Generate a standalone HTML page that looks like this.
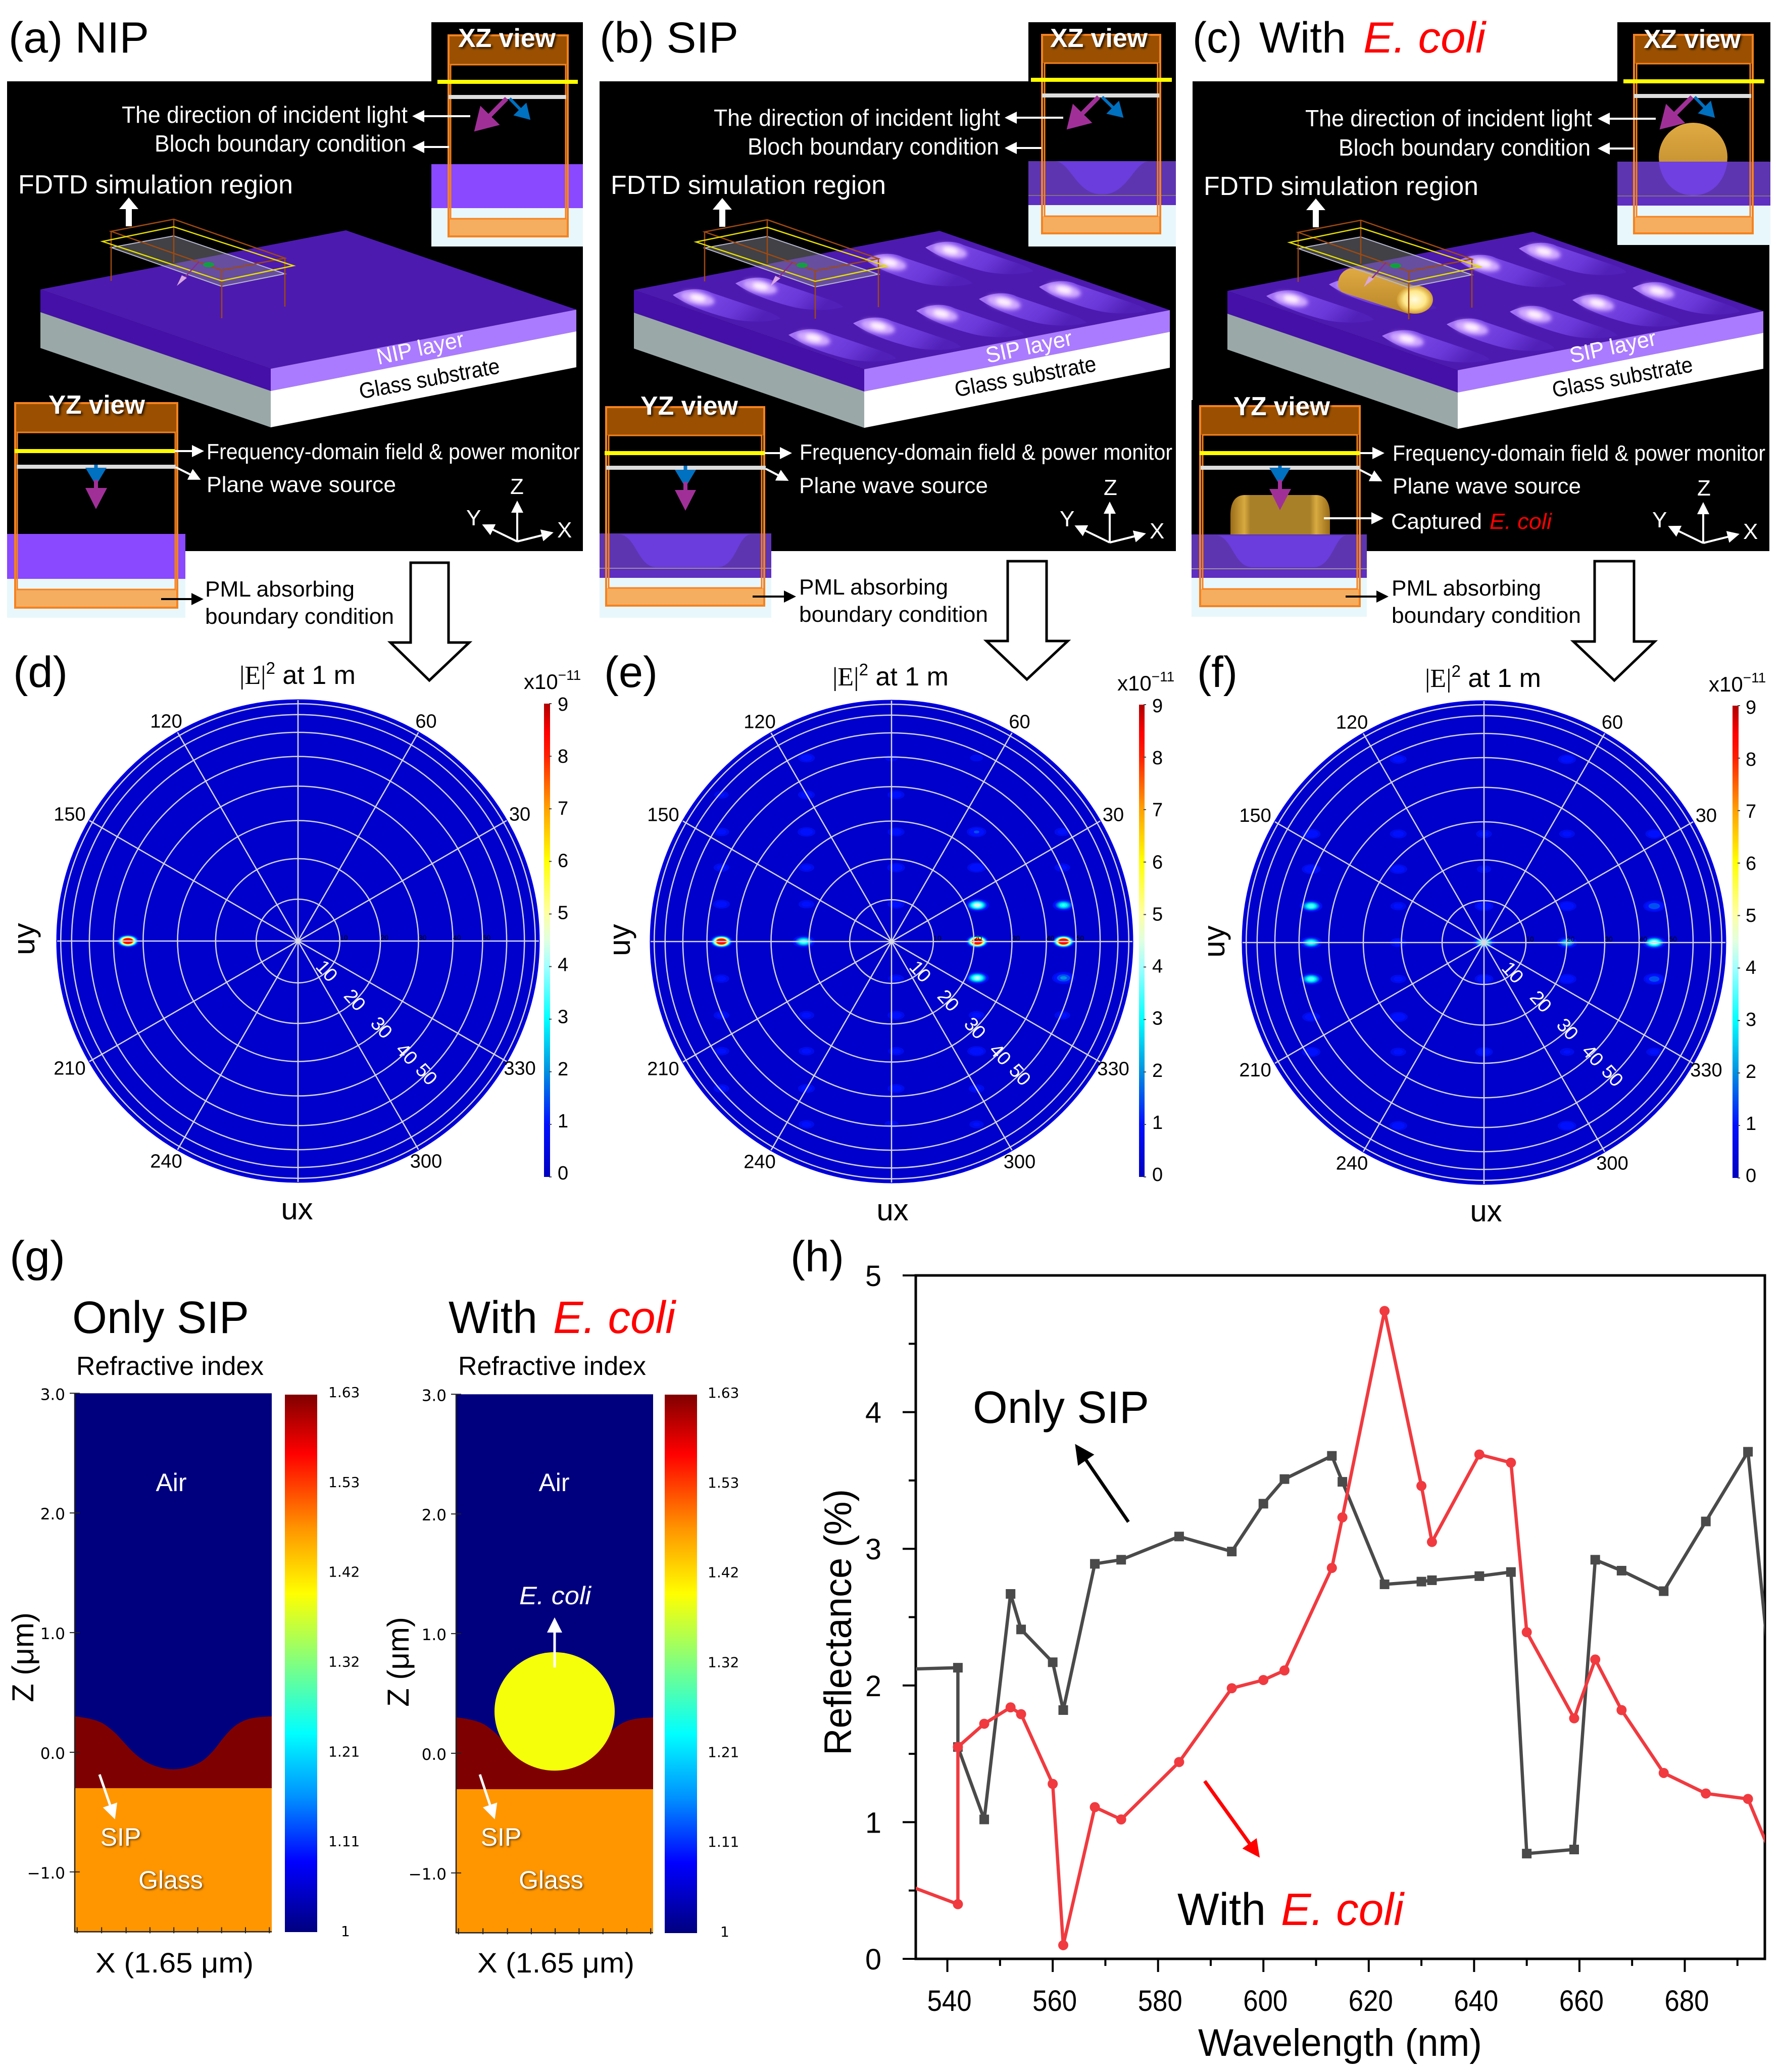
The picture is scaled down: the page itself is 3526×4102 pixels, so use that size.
<!DOCTYPE html>
<html lang="en">
<head>
<meta charset="utf-8">
<title>NIP / SIP simulation figure</title>
<style>
html,body{margin:0;padding:0;background:#fff}
svg{display:block;font-family:"Liberation Sans",sans-serif}
.w{fill:#fff}
.k{fill:#000}
.r{fill:#f00;font-style:italic}
.shadow{filter:drop-shadow(3px 3px 2px rgba(0,0,0,.75))}
.lbl{font-size:46px}
.mon{font-size:44px}
.ttl{font-size:86px}
.ax{font-size:44px;fill:#fff}
.view{font-size:52px;font-weight:bold;fill:#fff}
.head{font-size:52px}
.bar-unit{font-size:42px}
.uv{font-size:60px}
.glow{filter:drop-shadow(2px 2px 2px rgba(0,0,0,.6))}
</style>
</head>
<body>
<svg id="figure" xmlns="http://www.w3.org/2000/svg" width="3526" height="4102" viewBox="0 0 3526 4102">
<defs>
  <marker id="ah-w" markerWidth="6" markerHeight="6" refX="5" refY="3" orient="auto"><path d="M0,0L6,3L0,6z" fill="#fff"/></marker>
  <marker id="ah-k" markerWidth="6" markerHeight="6" refX="5" refY="3" orient="auto"><path d="M0,0L6,3L0,6z" fill="#000"/></marker>
  <marker id="ah-r" markerWidth="5" markerHeight="5" refX="4" refY="2.5" orient="auto"><path d="M0,0L5,2.5L0,5z" fill="#f00"/></marker>
  <marker id="ah-m" markerWidth="5" markerHeight="6" refX="4" refY="3" orient="auto"><path d="M0,0L5,3L0,6z" fill="#a03098"/></marker>
  <marker id="ah-b" markerWidth="5" markerHeight="6" refX="4" refY="3" orient="auto"><path d="M0,0L5,3L0,6z" fill="#0070c0"/></marker>
  <linearGradient id="heatGrad" x1="0" y1="0" x2="0" y2="1">
    <stop offset="0" stop-color="#b00000"/><stop offset=".06" stop-color="#ff0000"/><stop offset=".11" stop-color="#ff2000"/>
    <stop offset=".22" stop-color="#ffa000"/><stop offset=".33" stop-color="#ffff00"/><stop offset=".44" stop-color="#ffffa0"/>
    <stop offset=".5" stop-color="#e0ffe0"/><stop offset=".556" stop-color="#a0ffff"/><stop offset=".667" stop-color="#00ffff"/>
    <stop offset=".778" stop-color="#0090e0"/><stop offset=".889" stop-color="#0010ff"/><stop offset="1" stop-color="#0000c0"/>
  </linearGradient>
  <linearGradient id="jetGrad" x1="0" y1="0" x2="0" y2="1">
    <stop offset="0" stop-color="#800000"/><stop offset=".11" stop-color="#ff0000"/><stop offset=".25" stop-color="#ff9600"/>
    <stop offset=".37" stop-color="#ffff00"/><stop offset=".5" stop-color="#80ff80"/><stop offset=".63" stop-color="#00ffff"/>
    <stop offset=".75" stop-color="#0090ff"/><stop offset=".87" stop-color="#0000ff"/><stop offset="1" stop-color="#00007f"/>
  </linearGradient>
  <linearGradient id="dimpleGrad" x1="0" y1="0" x2="1" y2=".3">
    <stop offset="0" stop-color="#b080f8"/><stop offset=".3" stop-color="#7c48e8"/><stop offset=".7" stop-color="#6a38d8"/><stop offset="1" stop-color="#5020b8"/>
  </linearGradient>
  <linearGradient id="goldGrad" x1="0" y1="0" x2="0" y2="1">
    <stop offset="0" stop-color="#e0aa42"/><stop offset="1" stop-color="#b8862a"/>
  </linearGradient>
  <linearGradient id="goldH" x1="0" y1="0" x2="1" y2="0">
    <stop offset="0" stop-color="#9a6c18"/><stop offset=".14" stop-color="#d8aa40"/><stop offset=".2" stop-color="#a88028"/><stop offset=".8" stop-color="#a88028"/><stop offset=".86" stop-color="#d8aa40"/><stop offset="1" stop-color="#9a6c18"/>
  </linearGradient>
  <radialGradient id="capGrad"><stop offset="0" stop-color="#fffbe0"/><stop offset=".6" stop-color="#ffe88a"/><stop offset="1" stop-color="#d09a30"/></radialGradient>
  <filter id="soft" x="-60%" y="-60%" width="220%" height="220%"><feGaussianBlur stdDeviation="4"/></filter>
  <g id="slab">
    <polygon points="80,573 685,456 1141,613 536,730" fill="#4d1ab0"/>
    <polygon points="80,573 536,730 536,774 80,618" fill="#4510a8"/>
    <polygon points="536,730 1141,613 1141,656 536,774" fill="#ab7bff"/>
    <polygon points="80,618 536,774 536,846 80,689" fill="#9aa8a8"/>
    <polygon points="536,774 1141,656 1141,727 536,846" fill="#fff"/>
  </g>
  <g id="dimple">
    <path d="M-45,-7C-20,-20 10,-22 30,-12L140,25C155,30 165,36 168,40C140,48 100,47 70,40C30,30 -15,15 -45,-7Z" fill="url(#dimpleGrad)"/>
    <ellipse cx="4" cy="-1" rx="34" ry="13" transform="rotate(12)" fill="#d0a8ff" filter="url(#soft)"/>
    <ellipse cx="4" cy="-2" rx="16" ry="7" transform="rotate(12)" fill="#fff0ff" filter="url(#soft)"/>
  </g>
  <g id="sip-surface">
    <use href="#dimple" x="202" y="590"/><use href="#dimple" x="326" y="567"/><use href="#dimple" x="431" y="669"/>
    <use href="#dimple" x="559" y="646"/><use href="#dimple" x="684" y="621"/><use href="#dimple" x="808" y="598"/>
    <use href="#dimple" x="927" y="574"/><use href="#dimple" x="582" y="520"/><use href="#dimple" x="702" y="496"/>
  </g>
  <g id="wire">
    <polygon points="220,490 344,467 564,542 439,567" fill="rgba(130,130,140,.5)" stroke="#b8b8d0" stroke-width="2"/>
    <polygon points="220,458 344,434 564,511 439,535" fill="none" stroke="#a04a10" stroke-width="2.5"/>
    <path d="M220,458V556M439,535V630M564,511V607M344,434V520" fill="none" stroke="#a04a10" stroke-width="2.5"/>
    <polygon points="203,478 344,449 581,526 439,556" fill="none" stroke="#e6e000" stroke-width="2.5"/>
    <line x1="394" y1="518" x2="356" y2="560" stroke="#8a2c90" stroke-width="2.5"/>
    <polygon points="350,566 370,550 360,545" fill="#d8a8e0"/>
    <ellipse cx="413" cy="524" rx="11" ry="5" fill="#10a040"/>
    <line x1="255" y1="448" x2="255" y2="400" stroke="#fff" stroke-width="12"/>
    <polygon points="236,414 274,414 255,391" fill="#fff"/>
  </g>
</defs>

<!-- Panel a -->
<g>
  <rect x="14" y="161" width="1140" height="930" fill="#000"/>
  <use href="#slab"/>
  <use href="#wire"/>
  <text class="ttl" x="17" y="104" textLength="278">(a) NIP</text>
  <text class="w" font-size="44" transform="translate(749,722) rotate(-12)" textLength="176">NIP layer</text>
  <text class="k" font-size="44" transform="translate(714,790) rotate(-10.5)" textLength="282">Glass substrate</text>
  <g>
    <rect x="854" y="44" width="300" height="281" fill="#000"/>
    <rect x="854" y="325" width="300" height="87" fill="#8a48ff"/>
    <rect x="854" y="412" width="300" height="76" fill="#e8f7fb"/>
    <rect x="888" y="70" width="236" height="58" fill="#9a5000"/>
    <rect x="888" y="433" width="236" height="35" fill="#f5ae60"/>
    <rect x="888" y="70" width="236" height="398" fill="none" stroke="#f58220" stroke-width="4"/>
    <rect x="892" y="128" width="228" height="305" fill="none" stroke="#f58220" stroke-width="3"/>
    <rect x="866" y="158" width="278" height="8" fill="#ff0"/>
    <rect x="888" y="188" width="233" height="8" fill="#ddd"/>
    <line x1="1003" y1="195" x2="945" y2="254" stroke="#a03098" stroke-width="9" marker-end="url(#ah-m)"/>
    <line x1="1009" y1="195" x2="1046" y2="233" stroke="#0070c0" stroke-width="6" marker-end="url(#ah-b)"/>
    <text class="view shadow" x="907" y="93" textLength="193">XZ view</text>
  </g>
  <g>
    <rect x="14" y="1057" width="353" height="89" fill="#8a48ff"/>
    <rect x="14" y="1146" width="353" height="77" fill="#e8f7fb"/>
    <rect x="30" y="798" width="321" height="58" fill="#9a5000"/>
    <rect x="30" y="1167" width="321" height="36" fill="#f5ae60"/>
    <rect x="30" y="798" width="321" height="405" fill="none" stroke="#f58220" stroke-width="4"/>
    <rect x="34" y="856" width="313" height="311" fill="none" stroke="#f58220" stroke-width="3"/>
    <rect x="29" y="889" width="317" height="8" fill="#ff0"/>
    <rect x="33" y="920" width="315" height="8" fill="#ddd"/>
    <line x1="190" y1="920" x2="190" y2="954" stroke="#0070c0" stroke-width="7" marker-end="url(#ah-b)"/>
    <polygon points="169,966 212,966 190,1008" fill="#a03098"/>
    <rect x="186" y="950" width="8" height="18" fill="#a03098"/>
    <text class="view shadow" x="96" y="819" textLength="191">YZ view</text>
  </g>
  <text class="lbl w" x="241" y="243" textLength="566">The direction of incident light</text>
  <text class="lbl w" x="306" y="300" textLength="498">Bloch boundary condition</text>
  <text class="w" font-size="52" x="36" y="383" textLength="544">FDTD simulation region</text>
  <text class="mon w" x="409" y="909" textLength="739">Frequency-domain field &amp; power monitor</text>
  <text class="mon w" x="409" y="974" textLength="375">Plane wave source</text>
  <text class="mon k" x="406" y="1181" textLength="296">PML absorbing</text>
  <text class="mon k" x="406" y="1235" textLength="374">boundary condition</text>
  <line x1="931" y1="230" x2="820" y2="230" stroke="#fff" stroke-width="4" marker-end="url(#ah-w)"/>
  <line x1="889" y1="291" x2="820" y2="291" stroke="#fff" stroke-width="4" marker-end="url(#ah-w)"/>
  <line x1="346" y1="893" x2="400" y2="893" stroke="#fff" stroke-width="4" marker-end="url(#ah-w)"/>
  <line x1="348" y1="925" x2="394" y2="948" stroke="#fff" stroke-width="4" marker-end="url(#ah-w)"/>
  <line x1="319" y1="1186" x2="399" y2="1186" stroke="#000" stroke-width="4" marker-end="url(#ah-k)"/>
  <g stroke="#fff" stroke-width="4" fill="none">
    <path d="M1024,1072V995" marker-end="url(#ah-w)"/><path d="M1024,1072L958,1040" marker-end="url(#ah-w)"/><path d="M1024,1072L1092,1055" marker-end="url(#ah-w)"/>
  </g>
  <text class="ax" x="1010" y="978">Z</text><text class="ax" x="923" y="1040">Y</text><text class="ax" x="1103" y="1064">X</text>
  <polygon points="813,1114 888,1114 888,1272 929,1272 850,1347 773,1272 813,1272" fill="#fff" stroke="#000" stroke-width="5"/>
</g>

<!-- Panel b -->
<g>
  <rect x="1187" y="161" width="1141" height="930" fill="#000"/>
  <g transform="translate(1175,1)">
    <use href="#slab"/>
    <use href="#sip-surface"/>
    <use href="#wire"/>
  </g>
  <text class="ttl" x="1187" y="104" textLength="275">(b) SIP</text>
  <text class="w" font-size="44" transform="translate(1955,719) rotate(-12)" textLength="174">SIP layer</text>
  <text class="k" font-size="44" transform="translate(1893,786) rotate(-10.5)" textLength="284">Glass substrate</text>
  <g>
    <rect x="2036" y="44" width="292" height="275" fill="#000"/>
    <rect x="2036" y="319" width="292" height="87" fill="#5e35b0"/>
    <rect x="2036" y="406" width="292" height="82" fill="#e8f7fb"/>
    <path d="M2088,319C2120,320 2130,385 2182,385C2234,385 2244,320 2276,319Z" fill="#6a3ddc"/>
    <rect x="2036" y="386" width="292" height="2" fill="#807080"/>
    <rect x="2036" y="388" width="292" height="18" fill="#5e2fc0"/>
    <rect x="2063" y="69" width="234" height="56" fill="#9a5000"/>
    <rect x="2063" y="428" width="234" height="34" fill="#f5ae60"/>
    <rect x="2063" y="69" width="234" height="393" fill="none" stroke="#f58220" stroke-width="4"/>
    <rect x="2068" y="125" width="224" height="303" fill="none" stroke="#f58220" stroke-width="3"/>
    <rect x="2041" y="154" width="279" height="8" fill="#ff0"/>
    <rect x="2063" y="185" width="232" height="8" fill="#ddd"/>
    <line x1="2175" y1="192" x2="2118" y2="250" stroke="#a03098" stroke-width="9" marker-end="url(#ah-m)"/>
    <line x1="2182" y1="192" x2="2220" y2="229" stroke="#0070c0" stroke-width="6" marker-end="url(#ah-b)"/>
    <text class="view shadow" x="2079" y="93" textLength="193">XZ view</text>
  </g>
  <g>
    <rect x="1187" y="1056" width="340" height="88" fill="#5e35b0"/>
    <rect x="1187" y="1144" width="340" height="79" fill="#e8f7fb"/>
    <path d="M1226,1058C1260,1060 1262,1123 1300,1123H1420C1458,1123 1460,1060 1486,1058Z" fill="#6a3ddc"/>
    <rect x="1187" y="1124" width="340" height="2" fill="#9a90a0"/>
    <rect x="1187" y="1126" width="340" height="18" fill="#5e2fc0"/>
    <rect x="1200" y="806" width="313" height="56" fill="#9a5000"/>
    <rect x="1200" y="1164" width="313" height="35" fill="#f5ae60"/>
    <rect x="1200" y="806" width="313" height="393" fill="none" stroke="#f58220" stroke-width="4"/>
    <rect x="1205" y="862" width="303" height="302" fill="none" stroke="#f58220" stroke-width="3"/>
    <rect x="1197" y="893" width="317" height="8" fill="#ff0"/>
    <rect x="1200" y="922" width="316" height="8" fill="#ddd"/>
    <line x1="1357" y1="922" x2="1357" y2="958" stroke="#0070c0" stroke-width="7" marker-end="url(#ah-b)"/>
    <polygon points="1336,970 1378,970 1357,1011" fill="#a03098"/>
    <rect x="1353" y="954" width="8" height="18" fill="#a03098"/>
    <text class="view shadow" x="1268" y="821" textLength="193">YZ view</text>
  </g>
  <text class="lbl w" x="1413" y="249" textLength="567">The direction of incident light</text>
  <text class="lbl w" x="1480" y="306" textLength="498">Bloch boundary condition</text>
  <text class="w" font-size="52" x="1209" y="384" textLength="545">FDTD simulation region</text>
  <text class="mon w" x="1583" y="910" textLength="738">Frequency-domain field &amp; power monitor</text>
  <text class="mon w" x="1582" y="976" textLength="374">Plane wave source</text>
  <text class="mon k" x="1582" y="1177" textLength="295">PML absorbing</text>
  <text class="mon k" x="1582" y="1231" textLength="374">boundary condition</text>
  <line x1="2105" y1="233" x2="1993" y2="233" stroke="#fff" stroke-width="4" marker-end="url(#ah-w)"/>
  <line x1="2062" y1="293" x2="1993" y2="293" stroke="#fff" stroke-width="4" marker-end="url(#ah-w)"/>
  <line x1="1514" y1="897" x2="1564" y2="897" stroke="#fff" stroke-width="4" marker-end="url(#ah-w)"/>
  <line x1="1516" y1="928" x2="1558" y2="950" stroke="#fff" stroke-width="4" marker-end="url(#ah-w)"/>
  <line x1="1490" y1="1181" x2="1572" y2="1181" stroke="#000" stroke-width="4" marker-end="url(#ah-k)"/>
  <g stroke="#fff" stroke-width="4" fill="none">
    <path d="M2197,1074V997" marker-end="url(#ah-w)"/><path d="M2197,1074L2131,1042" marker-end="url(#ah-w)"/><path d="M2197,1074L2265,1057" marker-end="url(#ah-w)"/>
  </g>
  <text class="ax" x="2185" y="980">Z</text><text class="ax" x="2098" y="1042">Y</text><text class="ax" x="2276" y="1066">X</text>
  <polygon points="1995,1111 2072,1111 2072,1269 2114,1269 2033,1345 1953,1269 1995,1269" fill="#fff" stroke="#000" stroke-width="5"/>
</g>

<!-- Panel c -->
<g>
  <rect x="2361" y="161" width="1142" height="930" fill="#000"/>
  <g transform="translate(2350,3)">
    <use href="#slab"/>
    <use href="#sip-surface"/>
  </g>
  <g>
    <path d="M2673,531C2655,536 2646,552 2650,570L2656,578L2790,622L2801,566L2695,533Z" fill="url(#goldGrad)"/>
    <ellipse cx="2801" cy="593" rx="36" ry="28" fill="url(#capGrad)"/>
  </g>
  <g transform="translate(2350,2)"><use href="#wire"/></g>
  <text class="ttl" x="2361" y="104" textLength="98">(c)</text>
  <text class="ttl" x="2493" y="104" textLength="172">With</text>
  <text class="ttl r" x="2699" y="104" textLength="242">E. coli</text>
  <text class="w" font-size="44" transform="translate(3111,719) rotate(-12)" textLength="174">SIP layer</text>
  <text class="k" font-size="44" transform="translate(3076,787) rotate(-10.5)" textLength="282">Glass substrate</text>
  <g>
    <rect x="3202" y="44" width="303" height="276" fill="#000"/>
    <circle cx="3352" cy="311" r="68" fill="url(#goldGrad)"/>
    <rect x="3202" y="320" width="303" height="87" fill="#5e35b0"/>
    <path d="M3284,320C3290,365 3320,387 3352,387C3384,387 3414,365 3420,320Z" fill="#7040e0"/>
    <rect x="3202" y="387" width="303" height="2" fill="#807080"/>
    <rect x="3202" y="389" width="303" height="18" fill="#5e2fc0"/>
    <rect x="3202" y="407" width="303" height="78" fill="#e8f7fb"/>
    <rect x="3235" y="69" width="235" height="57" fill="#9a5000"/>
    <rect x="3235" y="429" width="235" height="33" fill="#f5ae60"/>
    <rect x="3235" y="69" width="235" height="393" fill="none" stroke="#f58220" stroke-width="4"/>
    <rect x="3240" y="126" width="225" height="303" fill="none" stroke="#f58220" stroke-width="3"/>
    <rect x="3214" y="157" width="279" height="8" fill="#ff0"/>
    <rect x="3235" y="186" width="232" height="8" fill="#ddd"/>
    <line x1="3350" y1="192" x2="3292" y2="250" stroke="#a03098" stroke-width="9" marker-end="url(#ah-m)"/>
    <line x1="3355" y1="192" x2="3391" y2="229" stroke="#0070c0" stroke-width="6" marker-end="url(#ah-b)"/>
    <text class="view shadow" x="3254" y="95" textLength="192">XZ view</text>
  </g>
  <g>
    <rect x="2359" y="792" width="347" height="266" fill="#000"/>
    <path d="M2436,1058V1020C2436,995 2445,980 2465,980H2605C2625,980 2633,995 2633,1020V1058Z" fill="url(#goldH)"/>
    <rect x="2359" y="1058" width="347" height="86" fill="#5e35b0"/>
    <rect x="2359" y="1144" width="347" height="77" fill="#e8f7fb"/>
    <path d="M2408,1060C2440,1062 2442,1123 2480,1123H2600C2638,1123 2642,1062 2665,1060Z" fill="#6a3ddc"/>
    <rect x="2359" y="1125" width="347" height="2" fill="#9a90a0"/>
    <rect x="2359" y="1127" width="347" height="17" fill="#5e2fc0"/>
    <rect x="2376" y="804" width="316" height="57" fill="#9a5000"/>
    <rect x="2376" y="1166" width="316" height="34" fill="#f5ae60"/>
    <rect x="2376" y="804" width="316" height="396" fill="none" stroke="#f58220" stroke-width="4"/>
    <rect x="2381" y="861" width="306" height="305" fill="none" stroke="#f58220" stroke-width="3"/>
    <rect x="2375" y="893" width="317" height="8" fill="#ff0"/>
    <rect x="2377" y="922" width="315" height="8" fill="#ddd"/>
    <line x1="2534" y1="922" x2="2534" y2="954" stroke="#0070c0" stroke-width="7" marker-end="url(#ah-b)"/>
    <polygon points="2513,968 2556,968 2534,1010" fill="#a03098"/>
    <rect x="2530" y="950" width="8" height="20" fill="#a03098"/>
    <text class="view shadow" x="2442" y="822" textLength="191">YZ view</text>
  </g>
  <text class="lbl w" x="2584" y="250" textLength="568">The direction of incident light</text>
  <text class="lbl w" x="2650" y="308" textLength="499">Bloch boundary condition</text>
  <text class="w" font-size="52" x="2383" y="386" textLength="544">FDTD simulation region</text>
  <text class="mon w" x="2757" y="912" textLength="738">Frequency-domain field &amp; power monitor</text>
  <text class="mon w" x="2757" y="977" textLength="373">Plane wave source</text>
  <text class="mon w" x="2754" y="1047" textLength="180">Captured</text>
  <text class="mon r" x="2949" y="1047" textLength="123">E. coli</text>
  <text class="mon k" x="2755" y="1179" textLength="296">PML absorbing</text>
  <text class="mon k" x="2755" y="1233" textLength="375">boundary condition</text>
  <line x1="3278" y1="235" x2="3167" y2="235" stroke="#fff" stroke-width="4" marker-end="url(#ah-w)"/>
  <line x1="3236" y1="294" x2="3167" y2="294" stroke="#fff" stroke-width="4" marker-end="url(#ah-w)"/>
  <line x1="2692" y1="897" x2="2737" y2="897" stroke="#fff" stroke-width="4" marker-end="url(#ah-w)"/>
  <line x1="2692" y1="930" x2="2733" y2="951" stroke="#fff" stroke-width="4" marker-end="url(#ah-w)"/>
  <line x1="2621" y1="1026" x2="2735" y2="1026" stroke="#fff" stroke-width="4" marker-end="url(#ah-w)"/>
  <line x1="2664" y1="1181" x2="2745" y2="1181" stroke="#000" stroke-width="4" marker-end="url(#ah-k)"/>
  <g stroke="#fff" stroke-width="4" fill="none">
    <path d="M3372,1075V998" marker-end="url(#ah-w)"/><path d="M3372,1075L3306,1043" marker-end="url(#ah-w)"/><path d="M3372,1075L3440,1058" marker-end="url(#ah-w)"/>
  </g>
  <text class="ax" x="3360" y="981">Z</text><text class="ax" x="3271" y="1044">Y</text><text class="ax" x="3451" y="1067">X</text>
  <polygon points="3157,1111 3235,1111 3235,1270 3276,1270 3196,1347 3115,1270 3157,1270" fill="#fff" stroke="#000" stroke-width="5"/>
</g>

<!-- Polar panel static text -->
<g>
  <text class="ttl" x="26" y="1360" textLength="108">(d)</text>
  <text class="ttl" x="1196" y="1360" textLength="106">(e)</text>
  <text class="ttl" x="2370" y="1360" textLength="80">(f)</text>
  <text class="head" x="474" y="1354" font-size="54"><tspan font-family="'Liberation Serif',serif">|E|</tspan><tspan dy="-20" font-size="33">2</tspan><tspan dy="20"> at 1 m</tspan></text>
  <text class="head" x="1648" y="1357"><tspan font-family="'Liberation Serif',serif">|E|</tspan><tspan dy="-20" font-size="33">2</tspan><tspan dy="20"> at 1 m</tspan></text>
  <text class="head" x="2821" y="1360"><tspan font-family="'Liberation Serif',serif">|E|</tspan><tspan dy="-20" font-size="33">2</tspan><tspan dy="20"> at 1 m</tspan></text>
  <text class="bar-unit" x="1037" y="1364">x10<tspan dy="-18" font-size="28">−11</tspan></text>
  <text class="bar-unit" x="2212" y="1367">x10<tspan dy="-18" font-size="28">−11</tspan></text>
  <text class="bar-unit" x="3383" y="1369">x10<tspan dy="-18" font-size="28">−11</tspan></text>
  <text class="uv" transform="translate(68,1859) rotate(-90)" text-anchor="middle">uy</text>
  <text class="uv" transform="translate(1247,1861) rotate(-90)" text-anchor="middle">uy</text>
  <text class="uv" transform="translate(2424,1864) rotate(-90)" text-anchor="middle">uy</text>
  <text class="uv" x="588" y="2414" text-anchor="middle">ux</text>
  <text class="uv" x="1767" y="2416" text-anchor="middle">ux</text>
  <text class="uv" x="2942" y="2418" text-anchor="middle">ux</text>
</g>
<g id="polar-layer"></g>

<!-- Panel g -->
<g>
  <text class="ttl" x="19" y="2517" textLength="110">(g)</text>
  <text font-size="90" x="143" y="2639" textLength="350">Only SIP</text>
  <text font-size="90" x="888" y="2639" textLength="176">With</text>
  <text font-size="90" class="r" x="1095" y="2639" textLength="242">E. coli</text>
  <text font-size="52" x="151" y="2722" textLength="371">Refractive index</text>
  <text font-size="52" x="907" y="2722" textLength="372">Refractive index</text>
  <text font-size="60" transform="translate(66,3281) rotate(-90)" text-anchor="middle">Z (μm)</text>
  <text font-size="60" transform="translate(809,3290) rotate(-90)" text-anchor="middle">Z (μm)</text>
  <text font-size="56" x="189" y="3905" textLength="313">X (1.65 μm)</text>
  <text font-size="56" x="945" y="3905" textLength="311">X (1.65 μm)</text>
</g>
<g id="index-layer"></g>
<g>
  <text class="w" font-size="50" x="339" y="2952" text-anchor="middle">Air</text>
  <text class="w glow" font-size="50" x="239" y="3654" text-anchor="middle">SIP</text>
  <text class="w glow" font-size="50" x="338" y="3739" text-anchor="middle">Glass</text>
  <line x1="197" y1="3513" x2="226" y2="3597" stroke="#fff" stroke-width="5" marker-end="url(#ah-w)"/>
  <text class="w" font-size="50" x="1097" y="2952" text-anchor="middle">Air</text>
  <text class="w glow" font-size="50" x="992" y="3654" text-anchor="middle">SIP</text>
  <text class="w glow" font-size="50" x="1091" y="3739" text-anchor="middle">Glass</text>
  <line x1="950" y1="3513" x2="978" y2="3597" stroke="#fff" stroke-width="5" marker-end="url(#ah-w)"/>
  <text class="w" font-size="50" font-style="italic" x="1028" y="3176" textLength="142">E. coli</text>
  <line x1="1098" y1="3301" x2="1098" y2="3207" stroke="#fff" stroke-width="5" marker-end="url(#ah-w)"/>
</g>

<!-- Panel h -->
<g id="line-layer"></g>
<g>
  <text class="ttl" x="1565" y="2517" textLength="106">(h)</text>
  <text font-size="76" x="2372" y="4070" textLength="562">Wavelength (nm)</text>
  <text font-size="76" transform="translate(1685,3475) rotate(-90)" textLength="527">Reflectance (%)</text>
  <text font-size="90" x="1926" y="2817" textLength="349">Only SIP</text>
  <text font-size="90" x="2331" y="3811" textLength="175">With</text>
  <text font-size="90" class="r" x="2536" y="3811" textLength="243">E. coli</text>
  <line x1="2234" y1="3013" x2="2132" y2="2864" stroke="#000" stroke-width="6.5" marker-end="url(#ah-k)"/>
  <line x1="2385" y1="3526" x2="2490" y2="3672" stroke="#f00" stroke-width="7" marker-end="url(#ah-r)"/>
</g>

<script>
// ---------- Polar far-field data ----------
const ringAngles = [10, 20, 30, 40, 50, 60, 70, 80];
const spokeAngles = [0, 30, 60, 90, 120, 150, 180, 210, 240, 270, 300, 330];
const angleLabels = ['30', '60', '120', '150', '210', '240', '300', '330'];
const angleLabelValues = [30, 60, 120, 150, 210, 240, 300, 330];
const radialLabels = ['10', '20', '30', '40', '50'];
const radialLabelAngles = [10, 20, 30, 40, 50];
const barTicks = ['0', '1', '2', '3', '4', '5', '6', '7', '8', '9'];
const barTickValues = [0, 1, 2, 3, 4, 5, 6, 7, 8, 9];

const dSpotUx = [-0.706];
const dSpotUy = [0];
const dSpotI = [9];

const eSpotUx = [-0.353,0,0.353,-0.706,-0.353,0.019,-0.706,-0.353,0.019,0.353,0.709,-0.706,-0.353,0.019,0.353,0.709,-0.706,-0.353,0.019,-0.706,0.019,-0.706,-0.353,0.019,0.353,0.709,-0.706,-0.353,0.019,0.353,-0.706,-0.353,0.019,0.353,-0.353,0,0.353,-0.706,-0.364,0.356,0.714,0.356,0.714,0.356,0.714];
const eSpotUy = [0.762,0.762,0.762,0.609,0.609,0.609,0.455,0.455,0.455,0.455,0.455,0.307,0.307,0.307,0.307,0.307,0.155,0.155,0.155,-0.154,-0.154,-0.306,-0.306,-0.306,-0.306,-0.306,-0.455,-0.455,-0.455,-0.455,-0.61,-0.61,-0.61,-0.61,-0.759,-0.759,-0.759,0,0,0,0,0.151,0.151,-0.151,-0.151];
const eSpotI = [1.3,1.0,1.0,1.1,1.3,1.3,1.2,1.4,1.3,1.6,1.2,1.2,1.2,1.4,1.5,1.2,1.3,1.2,1.3,1.2,1.2,1.2,1.2,1.3,1.2,1.2,1.2,1.2,1.2,1.5,1.2,1.3,1.3,1.2,1.2,1.1,1.1,9,4,9,9,5,3.6,4.6,2.2];

const fSpotUx = [-0.355,0.344,-0.716,-0.355,0,0.344,0.705,-0.716,-0.355,0,-0.355,0,0.344,0.705,-0.355,-0.355,0,0.344,0.705,-0.716,-0.355,-0.716,-0.355,0,0.344,0.705,-0.355,0.344,-0.716,-0.716,-0.716,0.705,0.344,0];
const fSpotUy = [0.759,0.759,0.45,0.45,0.45,0.45,0.45,0.304,0.304,0.304,0.151,0.151,0.151,0.151,0,-0.151,-0.151,-0.151,-0.151,-0.308,-0.308,-0.453,-0.453,-0.453,-0.453,-0.453,-0.759,-0.759,0.151,0,-0.151,0,0,0];
const fSpotI = [1.3,1.4,1.5,1.3,1.2,1.2,1.4,1.5,1.4,1.1,1.2,1.5,1.5,2.0,1.3,1.2,1.5,1.5,1.9,1.4,1.5,1.5,1.2,1.4,1.1,1.2,1.4,1.5,4.0,3.8,4.0,4.8,3.0,4.0];

// ---------- Refractive-index map data ----------
const surfaceX = [0,0.182,0.324,0.405,0.507,0.628,0.823,1.034,1.155,1.257,1.358,1.48,1.65];
const surfaceZ = [0.30,0.28,0.18,0.09,-0.02,-0.105,-0.155,-0.105,0,0.14,0.24,0.29,0.30];
const glassTopZ = -0.3;
const ecoliCenterZ = 0.35;
const ecoliRadiusZ = 0.495;
const zTickValues = [3, 2, 1, 0, -1];
const zTickLabels = ['3.0', '2.0', '1.0', '0.0', '−1.0'];
const xTickValues = [0.02,0.225,0.43,0.63,0.83,1.03,1.23,1.43,1.63];
const indexTickLabels = ['1.63','1.53','1.42','1.32','1.21','1.11','1'];

// ---------- Reflectance data ----------
const wavelengths = [533,542,542,547,552,554,560,562,568,573,584,594,600,604,613,615,623,630,632,641,647,650,659,663,668,676,684,692,696];
const onlySipReflectance = [2.12,2.13,1.55,1.02,2.67,2.41,2.17,1.82,2.89,2.92,3.09,2.98,3.33,3.51,3.68,3.49,2.74,2.76,2.77,2.80,2.83,0.77,0.80,2.92,2.84,2.69,3.20,3.71,2.16];
const eColiReflectance = [0.53,0.40,1.55,1.72,1.84,1.79,1.28,0.10,1.11,1.02,1.44,1.98,2.04,2.11,2.86,3.23,4.74,3.46,3.05,3.69,3.63,2.39,1.76,2.19,1.82,1.36,1.21,1.17,0.80];
const wlTicks = [540,560,580,600,620,640,660,680];
const wlTickLabels = ['540','560','580','600','620','640','660','680'];
const wlMinorTicks = [550,570,590,610,630,650,670,690];
const refTicks = [0,1,2,3,4,5];
const refTickLabels = ['0','1','2','3','4','5'];
const refMinorTicks = [0.5,1.5,2.5,3.5,4.5];

const NS = 'http://www.w3.org/2000/svg';
function mk(tag, attrs, parent, text) {
  const el = document.createElementNS(NS, tag);
  for (const k in attrs) el.setAttribute(k, attrs[k]);
  if (text !== undefined) el.textContent = text;
  parent.appendChild(el);
  return el;
}

const heatStops = [[0,[0,0,192]],[1,[0,16,255]],[2,[0,144,224]],[3,[0,255,255]],[4,[160,255,255]],[4.5,[224,255,224]],[5,[255,255,160]],[6,[255,255,0]],[7,[255,160,0]],[8,[255,32,0]],[8.5,[255,0,0]],[9,[176,0,0]]];
function heatColor(v) {
  for (let i = 1; i < heatStops.length; i++) {
    if (v <= heatStops[i][0]) {
      const a = heatStops[i-1], b = heatStops[i], t = (v - a[0]) / (b[0] - a[0]);
      return 'rgb(' + a[1].map((c, j) => Math.round(c + (b[1][j] - c) * t)).join(',') + ')';
    }
  }
  return 'rgb(176,0,0)';
}
const spotLevels = [0.7,1,1.5,2,2.5,3,3.5,4,4.5,5,5.5,6,6.5,7,7.5,8,8.5];

function drawPolar(cfg) {
  const root = document.getElementById('polar-layer');
  const g = mk('g', {}, root);
  
  
  const px = u => cfg.cx + u * cfg.R;
  const py = u => cfg.cy - u * cfg.R;
  const ringR = a => cfg.R * Math.sin(a * Math.PI / 180);
  const disc = mk('circle', {cx: cfg.cx, cy: cfg.cy, r: cfg.R, fill: '#0000cd', stroke: '#0000e6', 'stroke-width': 3}, g);
  
  
  cfg.ux.forEach((u, i) => {
    const I = cfg.I[i];
    const strong = I >= 8;
    const sx = I < 2.3 ? 15 : (strong ? 9.5 : 12);
    const sy = I < 2.3 ? 8 : (strong ? 5.5 : 6.5);
    const peak = strong ? I * 1.5 : I;
    const spot = mk('g', {}, g);
    
    
    spotLevels.forEach(l => {
      if (l >= I) return;
      const f = Math.sqrt(2 * Math.log(peak / l));
      mk('ellipse', {cx: px(u), cy: py(cfg.uy[i]), rx: sx * f, ry: sy * f, fill: heatColor(l)}, spot);
    });
  });
  ringAngles.forEach(a => {
    const ring = mk('circle', {cx: cfg.cx, cy: cfg.cy, r: ringR(a), fill: 'none', stroke: '#d4d4e4', 'stroke-width': 2.5}, g);
    
    
  });
  spokeAngles.forEach(a => {
    const t = a * Math.PI / 180;
    const sp = mk('line', {x1: cfg.cx, y1: cfg.cy, x2: px(Math.cos(t)), y2: py(Math.sin(t)), stroke: '#d8d8e4', 'stroke-width': 2.5}, g);
    
    
  });
  angleLabelValues.forEach((a, i) => {
    const t = a * Math.PI / 180;
    const c = Math.cos(t);
    const rx = cfg.R + (c < 0 ? 45 : 30);
    const ry = cfg.R + 26;
    const lab = mk('text', {x: cfg.cx + rx * c, y: cfg.cy - ry * Math.sin(t) + 13, 'font-size': 38, 'text-anchor': 'middle'}, g, angleLabels[i]);
    
    
  });
  radialLabelAngles.forEach((a, i) => {
    const dist = [82, 162, 238, 310, 366][i];
    const x = cfg.cx + dist * 0.695;
    const y = cfg.cy + dist * 0.72;
    const lab = mk('text', {transform: 'translate(' + x + ',' + y + ') rotate(48)', 'font-size': 38, fill: '#fff', 'text-anchor': 'middle', dy: 13}, g, radialLabels[i]);
    
    
    const small = mk('text', {x: cfg.cx + ringR(a) + 8, y: cfg.cy - 2, 'font-size': 14, 'text-anchor': 'middle'}, g, radialLabels[i]);
    
    
  });
  const bar = mk('rect', {x: cfg.bx, y: cfg.by0, width: cfg.bw, height: cfg.by1 - cfg.by0, fill: 'url(#heatGrad)'}, g);
  
  
  barTickValues.forEach((v, i) => {
    const ty = cfg.by1 - (v / 9) * (cfg.by1 - cfg.by0);
    const ly = cfg.ly1 - (v / 9) * (cfg.ly1 - cfg.ly0);
    const tick = mk('line', {x1: cfg.bx + cfg.bw - 2, x2: cfg.bx + cfg.bw + 3, y1: ty, y2: ty, stroke: '#444', 'stroke-width': 2}, g);
    
    
    const lab = mk('text', {x: cfg.lx, y: ly + 13, 'font-size': 38}, g, barTicks[i]);
    
    
  });
}
drawPolar({name: 'polar-d', cx: 590, cy: 1863, R: 477, ux: dSpotUx, uy: dSpotUy, I: dSpotI, bx: 1077, bw: 12, by0: 1393, by1: 2330, ly0: 1394, ly1: 2322, lx: 1104});
drawPolar({name: 'polar-e', cx: 1765, cy: 1864, R: 477, ux: eSpotUx, uy: eSpotUy, I: eSpotI, bx: 2255, bw: 11, by0: 1395, by1: 2330, ly0: 1397, ly1: 2325, lx: 2281});
drawPolar({name: 'polar-f', cx: 2938, cy: 1866, R: 478, ux: fSpotUx, uy: fSpotUy, I: fSpotI, bx: 3430, bw: 12, by0: 1397, by1: 2332, ly0: 1400, ly1: 2327, lx: 3456});

function drawIndexMap(cfg) {
  const root = document.getElementById('index-layer');
  const g = mk('g', {}, root);
  
  
  const xS = x => cfg.x0 + x / 1.65 * (cfg.x1 - cfg.x0);
  const zS = z => cfg.z0 - z * 236.9;
  const air = mk('rect', {x: cfg.x0, y: zS(3), width: cfg.x1 - cfg.x0, height: zS(-1.5) - zS(3), fill: '#00007f'}, g);
  
  
  let d = 'M' + xS(surfaceX[0]) + ',' + zS(surfaceZ[0]);
  for (let i = 1; i < surfaceX.length - 1; i++) {
    const mx = (xS(surfaceX[i]) + xS(surfaceX[i + 1])) / 2;
    const mz = (zS(surfaceZ[i]) + zS(surfaceZ[i + 1])) / 2;
    d += 'Q' + xS(surfaceX[i]) + ',' + zS(surfaceZ[i]) + ' ' + mx + ',' + mz;
  }
  d += 'L' + xS(surfaceX[surfaceX.length - 1]) + ',' + zS(surfaceZ[surfaceZ.length - 1]);
  d += 'L' + cfg.x1 + ',' + zS(glassTopZ) + 'L' + cfg.x0 + ',' + zS(glassTopZ) + 'Z';
  const sip = mk('path', {d: d, fill: '#7f0000'}, g);
  
  
  const glass = mk('rect', {x: cfg.x0, y: zS(glassTopZ), width: cfg.x1 - cfg.x0, height: zS(-1.5) - zS(glassTopZ), fill: '#ff9600'}, g);
  
  
  if (cfg.ecoli) {
    const cell = mk('ellipse', {cx: xS(0.825), cy: zS(ecoliCenterZ), rx: 119, ry: ecoliRadiusZ * 236.9, fill: '#f5ff0a'}, g);
    
    
  }
  const axes = mk('path', {d: 'M' + cfg.x0 + ',' + zS(3) + 'V' + zS(-1.5) + 'H' + cfg.x1, fill: 'none', stroke: '#222', 'stroke-width': 2.5}, g);
  
  
  zTickValues.forEach((z, i) => {
    const t = mk('line', {x1: cfg.x0 - 10, x2: cfg.x0 + 10, y1: zS(z), y2: zS(z), stroke: '#222', 'stroke-width': 2}, g);
    
    
    const lab = mk('text', {x: cfg.x0 - 19, y: zS(z) + 13, 'font-size': 31, 'text-anchor': 'end', 'font-family': '"DejaVu Sans",sans-serif'}, g, zTickLabels[i]);
    
    
  });
  xTickValues.forEach(x => {
    const t = mk('line', {x1: xS(x), x2: xS(x), y1: zS(-1.5) - 9, y2: zS(-1.5) + 3, stroke: '#222', 'stroke-width': 2}, g);
    
    
  });
  const bar = mk('rect', {x: cfg.bx, y: cfg.by0, width: cfg.bw, height: cfg.by1 - cfg.by0, fill: 'url(#jetGrad)'}, g);
  
  
  indexTickLabels.forEach((s, i) => {
    const y = cfg.ly0 + i / (indexTickLabels.length - 1) * (cfg.ly1 - cfg.ly0);
    const lab = mk('text', {x: cfg.lx + (i === indexTickLabels.length - 1 ? 25 : 0), y: y + 11, 'font-size': 28, 'font-family': '"DejaVu Sans",sans-serif'}, g, s);
    
    
  });
}
drawIndexMap({name: 'index-map-only-sip', x0: 148, x1: 538, z0: 3469, ecoli: false, bx: 564, bw: 64, by0: 2761, by1: 3825, lx: 650, ly0: 2755, ly1: 3822});
drawIndexMap({name: 'index-map-with-ecoli', x0: 903, x1: 1293, z0: 3471, ecoli: true, bx: 1316, bw: 64, by0: 2761, by1: 3827, lx: 1401, ly0: 2756, ly1: 3823});

// ---------- Reflectance chart ----------
(function () {
  const L = 1813, Rt = 3494, T = 2525, B = 3878;
  const xS = w => L + (w - 534) * (Rt - L) / (695.2 - 534);
  const yS = v => B - v * (B - T) / 5;
  const g = document.getElementById('line-layer');
  const clip = mk('clipPath', {id: 'plotClip'}, g);
  mk('rect', {x: L, y: T, width: Rt - L, height: B - T}, clip);
  const frame = mk('rect', {x: L, y: T, width: Rt - L, height: B - T, fill: 'none', stroke: '#000', 'stroke-width': 5}, g);
  
  
  wlTicks.forEach((w, i) => {
    const t = mk('line', {x1: xS(w), x2: xS(w), y1: B, y2: B + 26, stroke: '#000', 'stroke-width': 4}, g);
    
    
    const lab = mk('text', {x: xS(w) - 40, y: 3981, 'font-size': 58, textLength: 88}, g, wlTickLabels[i]);
    
    
  });
  wlMinorTicks.forEach(w => {
    const t = mk('line', {x1: xS(w), x2: xS(w), y1: B, y2: B + 14, stroke: '#000', 'stroke-width': 4}, g);
    
    
  });
  refTicks.forEach((v, i) => {
    const t = mk('line', {x1: L - 26, x2: L, y1: yS(v), y2: yS(v), stroke: '#000', 'stroke-width': 4}, g);
    
    
    const lab = mk('text', {x: 1713, y: yS(v) + 21, 'font-size': 58, textLength: 32}, g, refTickLabels[i]);
    
    
  });
  refMinorTicks.forEach(v => {
    const t = mk('line', {x1: L - 14, x2: L, y1: yS(v), y2: yS(v), stroke: '#000', 'stroke-width': 4}, g);
    
    
  });
  const plot = mk('g', {'clip-path': 'url(#plotClip)'}, g);
  const pts = vals => wavelengths.map((w, i) => xS(w) + ',' + yS(vals[i])).join(' ');
  const grayLine = mk('polyline', {points: pts(onlySipReflectance), fill: 'none', stroke: '#4a4a4a', 'stroke-width': 6.5}, plot);
  
  
  wavelengths.forEach((w, i) => {
    if (w < 534 || w > 695) return;
    const s = mk('rect', {x: xS(w) - 9.5, y: yS(onlySipReflectance[i]) - 9.5, width: 19, height: 19, fill: '#4a4a4a'}, plot);
    
    
  });
  const redLine = mk('polyline', {points: pts(eColiReflectance), fill: 'none', stroke: '#f03a3f', 'stroke-width': 6.5}, plot);
  
  
  wavelengths.forEach((w, i) => {
    if (w < 534 || w > 695) return;
    const c = mk('circle', {cx: xS(w), cy: yS(eColiReflectance[i]), r: 10, fill: '#f03a3f'}, plot);
    
    
  });
})();

document.querySelectorAll('text[textLength]').forEach(t => t.setAttribute('lengthAdjust', 'spacingAndGlyphs'));
</script>
</svg>
</body>
</html>
